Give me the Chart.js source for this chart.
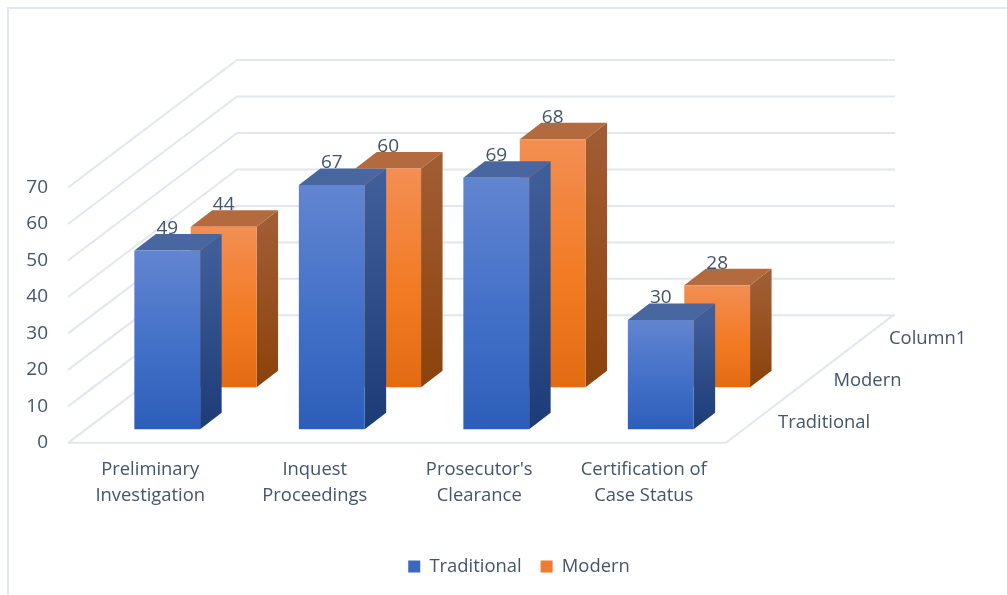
<!DOCTYPE html>
<html>
<head>
<meta charset="utf-8">
<title>Chart</title>
<script src="https://cdn.jsdelivr.net/npm/chart.js"></script>
<style>
    html, body { margin: 0; padding: 0; background: #fff; }
    canvas { display: block; filter: blur(0.4px); }
</style>
</head>
<body>
<canvas id="myChart" width="1007" height="595"></canvas>
<script>
var categories = [['Preliminary', 'Investigation'], ['Inquest', 'Proceedings'], ["Prosecutor's", 'Clearance'], ['Certification of', 'Case Status']];
var traditional = [49, 67, 69, 30];
var modern = [44, 60, 68, 28];
var depthLabels = ['Traditional', 'Modern', 'Column1'];

var textColor = '#44546a';
var gridColor = '#e2e7ee';
var fontName = '"Open Sans", "Noto Sans", sans-serif';

// how far each row sits behind the front plane
var wall = { dx: 167, dy: -127.5 };
var rows = [{ dx: 17, dy: -13.5 }, { dx: 73.4, dy: -55.5 }];
var extrude = { dx: 21.5, dy: -16.5 };

var blue = { light: '#6285d0', dark: '#2c5eb9', sideTop: '#3f5d99', sideBottom: '#1d3c77', top: '#48669f' };
var orange = { light: '#f38e53', dark: '#e26b12', sideTop: '#a05c32', sideBottom: '#8b420b', top: '#b46a3f' };
var looks = [blue, orange];

function frontGradient(c, look) {
    var y = c.chart.scales.y;
    if (c.raw === undefined) return look.dark;
    var g = c.chart.ctx.createLinearGradient(0, y.getPixelForValue(c.raw), 0, y.getPixelForValue(0));
    g.addColorStop(0, look.light);
    g.addColorStop(0.55, look.light === blue.light ? '#4270c8' : '#f27b24');
    g.addColorStop(1, look.dark);
    return g;
}

var depthPlugin = {
    id: 'depth',
    beforeDraw: function (chart) {
        var ctx = chart.ctx, x = chart.scales.x, y = chart.scales.y;
        var left = x.left, right = x.right;
        ctx.save();
        // outer frame
        ctx.strokeStyle = '#e3e8ef';
        ctx.lineWidth = 2;
        ctx.beginPath();
        ctx.moveTo(1007, 8);
        ctx.lineTo(8, 8);
        ctx.lineTo(8, 595);
        ctx.stroke();
        // side and back walls
        ctx.strokeStyle = gridColor;
        y.ticks.forEach(function (t) {
            var py = y.getPixelForValue(t.value);
            ctx.beginPath();
            ctx.moveTo(left, py);
            ctx.lineTo(left + wall.dx + 2, py + wall.dy);
            ctx.lineTo(right + wall.dx + 2, py + wall.dy);
            ctx.stroke();
        });
        // floor
        var p0 = y.getPixelForValue(0);
        ctx.beginPath();
        ctx.moveTo(left, p0);
        ctx.lineTo(right, p0);
        ctx.lineTo(right + wall.dx, p0 + wall.dy);
        ctx.stroke();
        // depth axis labels
        ctx.fillStyle = textColor;
        ctx.font = '18.4px ' + fontName;
        ctx.textAlign = 'left';
        ctx.textBaseline = 'middle';
        depthLabels.forEach(function (label, i) {
            ctx.fillText(label, right + 52 + i * 55.5, p0 - 20.5 - i * 42);
        });
        ctx.restore();
    },
    beforeDatasetDraw: function (chart, args) {
        var ctx = chart.ctx, row = rows[args.index], look = looks[args.index];
        ctx.save();
        ctx.translate(row.dx, row.dy);
        args.meta.data.forEach(function (bar) {
            var p = bar.getProps(['x', 'y', 'base', 'width'], true);
            var l = p.x - p.width / 2, r = p.x + p.width / 2;
            var side = ctx.createLinearGradient(0, p.y, 0, p.base);
            side.addColorStop(0, look.sideTop);
            side.addColorStop(1, look.sideBottom);
            ctx.fillStyle = side;
            ctx.beginPath();
            ctx.moveTo(r, p.y);
            ctx.lineTo(r + extrude.dx, p.y + extrude.dy);
            ctx.lineTo(r + extrude.dx, p.base + extrude.dy);
            ctx.lineTo(r, p.base);
            ctx.closePath();
            ctx.fill();
            ctx.fillStyle = look.top;
            ctx.beginPath();
            ctx.moveTo(l, p.y);
            ctx.lineTo(l + extrude.dx, p.y + extrude.dy);
            ctx.lineTo(r + extrude.dx, p.y + extrude.dy);
            ctx.lineTo(r, p.y);
            ctx.closePath();
            ctx.fill();
        });
    },
    afterDatasetDraw: function (chart) {
        chart.ctx.restore();
    },
    afterDatasetsDraw: function (chart) {
        var ctx = chart.ctx;
        ctx.save();
        ctx.fillStyle = textColor;
        ctx.font = '19px ' + fontName;
        ctx.textAlign = 'center';
        ctx.textBaseline = 'middle';
        chart.data.datasets.forEach(function (ds, i) {
            chart.getDatasetMeta(i).data.forEach(function (bar, j) {
                ctx.fillText(ds.data[j], bar.x + rows[i].dx, bar.y + rows[i].dy - 22);
            });
        });
        ctx.restore();
    },
    afterLayout: function (chart) {
        // legend sits right of the plot area's middle
        chart.legend.left += 147;
        chart.legend.right += 147;
    }
};

var myChart = new Chart(document.getElementById('myChart').getContext('2d'), {
    type: 'bar',
    data: {
        labels: categories,
        datasets: [
            { label: 'Traditional', data: traditional, clip: false, legendColor: '#3a68c0',
              backgroundColor: function (c) { return frontGradient(c, blue); } },
            { label: 'Modern', data: modern, clip: false, legendColor: '#ef7b2e',
              backgroundColor: function (c) { return frontGradient(c, orange); } }
        ]
    },
    options: {
        responsive: false,
        animation: false,
        layout: { padding: { left: 18, right: 281, top: 187.5, bottom: 9.25 } },
        datasets: { bar: { barPercentage: 1, categoryPercentage: 0.4, borderWidth: 0 } },
        scales: {
            x: {
                stacked: true,
                grid: { display: false },
                border: { display: false },
                ticks: {
                    color: textColor,
                    font: { family: fontName, size: 18.4, lineHeight: 1.41 },
                    padding: 6,
                    maxRotation: 0,
                    autoSkip: false
                },
                afterFit: function (s) { s.height = 95.5; }
            },
            y: {
                min: 0,
                max: 70,
                stacked: false,
                grid: { display: false },
                border: { display: false },
                ticks: {
                    stepSize: 10,
                    padding: 12,
                    color: textColor,
                    font: { family: fontName, size: 19 }
                },
                afterFit: function (s) { s.width = 50; }
            }
        },
        plugins: {
            tooltip: { enabled: false },
            legend: {
                position: 'bottom',
                labels: {
                    boxWidth: 12,
                    boxHeight: 12,
                    padding: 19,
                    color: textColor,
                    font: { family: fontName, size: 18.4 },
                    generateLabels: function (chart) {
                        return chart.data.datasets.map(function (ds, i) {
                            return { text: ds.label, fillStyle: ds.legendColor, strokeStyle: ds.legendColor, lineWidth: 0, fontColor: textColor, datasetIndex: i };
                        });
                    }
                }
            }
        }
    },
    plugins: [depthPlugin]
});
</script>
</body>
</html>
